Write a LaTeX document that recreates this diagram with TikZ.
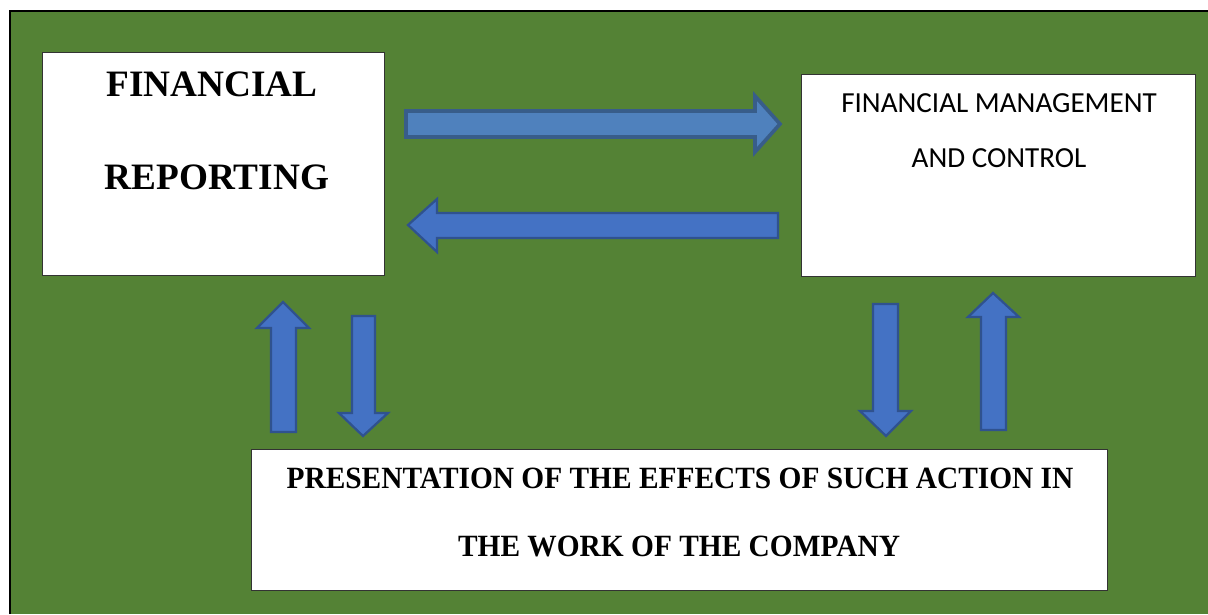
\documentclass[tikz,border=0pt]{standalone}
\usepackage{fontspec}
\setmainfont{Liberation Serif}
\newfontfamily\calfont{Carlito}
\newfontfamily\narrowfont[FakeStretch=0.95]{Liberation Serif}
\definecolor{bggreen}{HTML}{548235}
\definecolor{arrowblue}{HTML}{4472C4}
\definecolor{arrowedge}{HTML}{2F528F}
\definecolor{lightblue}{HTML}{4F81BD}
\definecolor{lightedge}{HTML}{385D8A}

\tikzset{
  whitebox/.style={draw=black!80, fill=white, line width=0.9pt, inner sep=0pt, anchor=north west},
  blockarrow/.style={fill=arrowblue, draw=arrowedge, line width=1.6pt, line join=miter},
  boldtext/.style={font=\bfseries\fontsize{26.5}{31}\selectfont, anchor=base},
  sanstext/.style={font=\calfont\fontsize{20.7}{24}\selectfont, anchor=base},
  narrowtext/.style={font=\narrowfont\bfseries\fontsize{22}{26}\selectfont, anchor=base}
}

\begin{document}
\begin{tikzpicture}[x=0.025cm, y=-0.025cm]

  \useasboundingbox (0,0) rectangle (1208,614);

  % background
  \fill[bggreen] (10,11) rectangle (1208,614);
  \draw[line width=1.5pt] (10,614) |- (1208,11);

  % boxes
  \node[whitebox, minimum width=342*0.025cm, minimum height=223*0.025cm] (rep) at (42,52) {};
  \node[whitebox, minimum width=394*0.025cm, minimum height=202*0.025cm] (mgmt) at (801,74) {};
  \node[whitebox, minimum width=856*0.025cm, minimum height=141*0.025cm] (effects) at (251,449) {};

  % texts
  \node[boldtext] (repa) at (212,96) {FINANCIAL};
  \node[boldtext] (repb) at (217,189) {REPORTING};
  \node[sanstext] (mgmta) at (999,112) {FINANCIAL MANAGEMENT};
  \node[sanstext] (mgmtb) at (999,167) {AND CONTROL};
  \node[narrowtext] (effa) at (680,488) {PRESENTATION OF THE EFFECTS OF SUCH ACTION IN};
  \node[narrowtext] (effb) at (679,556) {THE WORK OF THE COMPANY};

  % horizontal arrows
  \draw[blockarrow, fill=lightblue, draw=lightedge, line width=2.6pt]
    (406,111) -- (755,111) -- (755,96) -- (780,124) -- (755,152) -- (755,137) -- (406,137) -- cycle;
  \draw[blockarrow]
    (778,213) -- (437,213) -- (437,199) -- (408,225) -- (437,252) -- (437,238) -- (778,238) -- cycle;

  % vertical arrows, left pair
  \draw[blockarrow]
    (271,432) -- (271,328) -- (257,328) -- (283,302) -- (309,328) -- (296,328) -- (296,432) -- cycle;
  \draw[blockarrow]
    (352,316) -- (375,316) -- (375,413) -- (388,413) -- (363,436) -- (339,413) -- (352,413) -- cycle;

  % vertical arrows, right pair
  \draw[blockarrow]
    (873,304) -- (898,304) -- (898,411) -- (911,411) -- (886,436) -- (860,411) -- (873,411) -- cycle;
  \draw[blockarrow]
    (981,430) -- (981,317) -- (968,317) -- (993,293) -- (1019,317) -- (1006,317) -- (1006,430) -- cycle;

\end{tikzpicture}
\end{document}
